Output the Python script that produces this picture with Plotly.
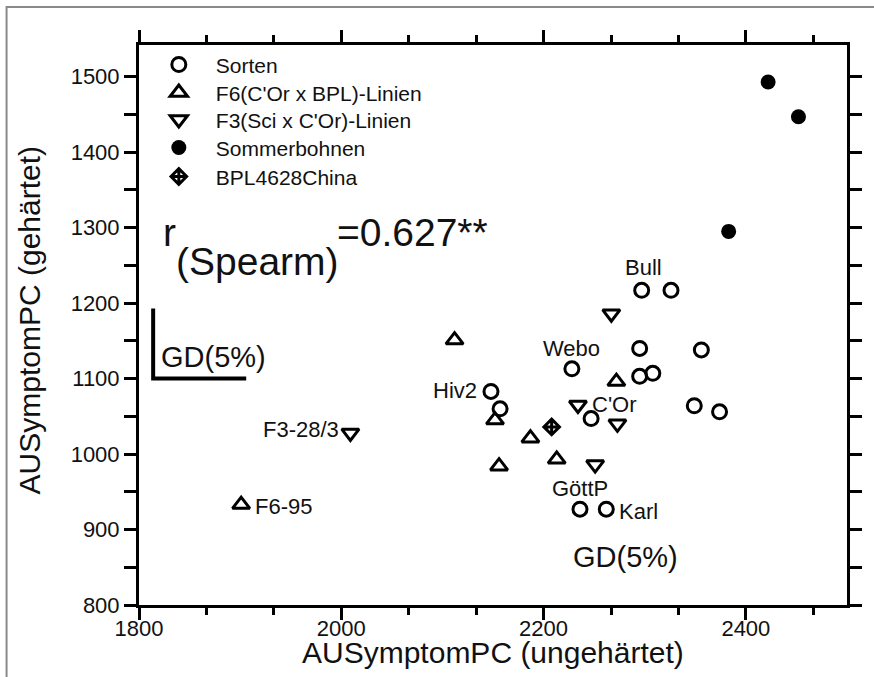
import plotly.graph_objects as go

# ---------------- data ----------------
sorten_x = [2297, 2326, 2228, 2295, 2356, 2295, 2308, 2349, 2374, 2148, 2157, 2247, 2236, 2262]
sorten_y = [1217, 1217, 1113, 1140, 1138, 1103, 1107, 1064, 1056, 1083, 1060, 1047, 927, 927]

f6_x = [2112, 2272, 2152, 2187, 2213, 2156, 1901]
f6_y = [1151, 1096, 1045, 1021, 993, 984, 933]

f3_x = [2267, 2234, 2273, 2251, 2009]
f3_y = [1186, 1065, 1040, 986, 1028]

sommer_x = [2422, 2452, 2383]
sommer_y = [1493, 1447, 1295]

bpl_x = [2208]
bpl_y = [1036]

# GD(5%) bracket: corner and lengths in data units
gd_corner = (1814, 1100)
gd_len_x = 92
gd_len_y = 93

# axis ranges / ticks
x_range = [1800, 2500]
y_range = [800, 1542]
x_dtick, x_minor = 200, 200 / 3
y_dtick, y_minor = 100, 50

# point labels: (series, index, text, xanchor, xshift, yshift)
point_labels = [
    ("sorten", 0, "Bull", "center", 2, 23),
    ("sorten", 2, "Webo", "center", 0, 20),
    ("sorten", 9, "Hiv2", "right", -12, 1),
    ("sorten", 11, "C'Or", "left", -1, 14),
    ("sorten", 12, "GöttP", "center", 0, 21),
    ("sorten", 13, "Karl", "left", 11, -2),
    ("f6", 6, "F6-95", "left", 12, -2),
    ("f3", 4, "F3-28/3", "right", -9, 3),
]

FONT = "Liberation Sans, Arial, Helvetica, sans-serif"
TXT = "#111111"

# plot-area geometry in pixels (used to place free text / legend rows)
L, R, T, B, W, H = 139, 24, 45, 72, 874, 677
PW, PH = W - L - R, H - T - B


def px_x(px):
    return (px - L) / PW


def px_y(py):
    return (H - B - py) / PH


legend_rows = [65, 93, 120, 148, 177]  # vertical centres of legend entries (px)

fig = go.Figure()

fig.add_trace(go.Scatter(
    x=sorten_x, y=sorten_y, mode="markers", name="Sorten", legend="legend",
    marker=dict(symbol="circle-open", size=14, color="black", line=dict(width=3, color="black"))))
fig.add_trace(go.Scatter(
    x=f6_x, y=f6_y, mode="markers", name="F6(C'Or x BPL)-Linien", legend="legend2",
    marker=dict(symbol="triangle-up-open", size=15, color="black", line=dict(width=3, color="black"))))
fig.add_trace(go.Scatter(
    x=f3_x, y=f3_y, mode="markers", name="F3(Sci x C'Or)-Linien", legend="legend3",
    marker=dict(symbol="triangle-down-open", size=15, color="black", line=dict(width=3, color="black"))))
fig.add_trace(go.Scatter(
    x=sommer_x, y=sommer_y, mode="markers", name="Sommerbohnen", legend="legend4",
    marker=dict(symbol="circle", size=15, color="black")))
fig.add_trace(go.Scatter(
    x=bpl_x, y=bpl_y, mode="markers", name="BPL4628China", legend="legend5",
    marker=dict(symbol="diamond-cross-open", size=12, color="black", line=dict(width=3, color="black"))))

# GD bracket (drawn on the tick-mark x axis, which shares the range of the main x axis)
gx, gy = gd_corner
fig.add_trace(go.Scatter(
    x=[gx, gx, gx + gd_len_x], y=[gy + gd_len_y, gy, gy], mode="lines", xaxis="x2", yaxis="y",
    line=dict(color="black", width=4), showlegend=False, hoverinfo="skip"))

series = {"sorten": (sorten_x, sorten_y), "f6": (f6_x, f6_y), "f3": (f3_x, f3_y)}
annotations = []
for s, i, t, xa, xs, ys in point_labels:
    xs_, ys_ = series[s]
    annotations.append(dict(x=xs_[i], y=ys_[i], xref="x", yref="y", text=t, showarrow=False,
                            xanchor=xa, yanchor="middle", xshift=xs, yshift=ys,
                            font=dict(size=22, color=TXT, family=FONT)))

# GD text next to bracket
annotations.append(dict(x=gx, y=gy, xref="x", yref="y", text="GD(5%)", showarrow=False,
                        xanchor="left", yanchor="middle", xshift=6, yshift=22,
                        font=dict(size=29, color=TXT, family=FONT)))
# GD text bottom
annotations.append(dict(x=px_x(628), y=px_y(557), xref="paper", yref="paper", text="GD(5%)",
                        showarrow=False, xanchor="center", yanchor="middle",
                        font=dict(size=29, color=TXT, family=FONT)))

# Spearman text
RF = 39
annotations.append(dict(x=px_x(161), y=px_y(232), xref="paper", yref="paper", text="r",
                        showarrow=False, xanchor="left", yanchor="middle",
                        font=dict(size=RF, color=TXT, family=FONT)))
annotations.append(dict(x=px_x(174), y=px_y(261), xref="paper", yref="paper", text="(Spearm)",
                        showarrow=False, xanchor="left", yanchor="middle",
                        font=dict(size=RF, color=TXT, family=FONT)))
annotations.append(dict(x=px_x(336), y=px_y(232), xref="paper", yref="paper", text="=0.627**",
                        showarrow=False, xanchor="left", yanchor="middle",
                        font=dict(size=RF, color=TXT, family=FONT)))

# axis titles
annotations.append(dict(x=0.5, y=px_y(652), xref="paper", yref="paper",
                        text="AUSymptomPC (ungehärtet)", showarrow=False,
                        xanchor="center", yanchor="middle", borderpad=0,
                        font=dict(size=30, color=TXT, family=FONT)))
annotations.append(dict(x=px_x(30), y=0.509, xref="paper", yref="paper",
                        text="AUSymptomPC (gehärtet)", showarrow=False, textangle=-90,
                        xanchor="center", yanchor="middle",
                        font=dict(size=30, color=TXT, family=FONT)))

tickfont = dict(size=22, color=TXT, family=FONT)

# main x axis: carries the tick labels (short invisible ticks keep labels close to the axis)
xaxis = dict(range=x_range, tick0=x_range[0], dtick=x_dtick,
             ticks="outside", ticklen=2, tickwidth=1, tickcolor="rgba(0,0,0,0)",
             showline=True, linewidth=3, linecolor="black", mirror=True,
             showgrid=False, zeroline=False, tickfont=tickfont)
# overlay x axis: draws the visible major/minor tick marks (bottom and mirrored top)
xaxis2 = dict(overlaying="x", matches="x", anchor="y", side="bottom",
              range=x_range, tick0=x_range[0], dtick=x_dtick,
              ticks="outside", ticklen=12, tickwidth=2.5, tickcolor="black",
              showline=True, linewidth=3, linecolor="black", mirror="allticks",
              showticklabels=False, showgrid=False, zeroline=False,
              minor=dict(tick0=x_range[0], dtick=x_minor, ticks="outside", ticklen=7, tickwidth=2.5,
                         tickcolor="black", showgrid=False))
yaxis = dict(range=y_range, tick0=y_range[0], dtick=y_dtick,
             ticks="outside", ticklen=12, tickwidth=2.5, tickcolor="black",
             showline=True, linewidth=3, linecolor="black", mirror="allticks",
             showgrid=False, zeroline=False, tickfont=tickfont,
             minor=dict(tick0=y_range[0], dtick=y_minor, ticks="outside", ticklen=7, tickwidth=2.5,
                        tickcolor="black", showgrid=False))

# outer grey frame (top and left edges)
fl, ft, fb, fr = px_x(6), px_y(7), px_y(690), px_x(890)
shapes = [dict(type="path", xref="paper", yref="paper",
               path=f"M {fl} {fb} L {fl} {ft} L {fr} {ft}",
               line=dict(color="#8a8a8a", width=2))]

LEG_FONT = 21
legend_common = dict(xanchor="left", yanchor="top", bgcolor="rgba(0,0,0,0)", borderwidth=0,
                     font=dict(size=LEG_FONT, color=TXT, family=FONT), itemwidth=64)
leg_offset = 5.5 + (LEG_FONT * 1.3 + 3) / 2
legends = {}
for k, row in enumerate(legend_rows):
    key = "legend" if k == 0 else f"legend{k + 1}"
    legends[key] = dict(x=0.004, y=px_y(row - leg_offset), **legend_common)

fig.update_layout(
    width=W, height=H,
    margin=dict(l=L, r=R, t=T, b=B),
    paper_bgcolor="white", plot_bgcolor="white",
    font=dict(family=FONT, color=TXT),
    showlegend=True,
    xaxis=xaxis, xaxis2=xaxis2, yaxis=yaxis,
    annotations=annotations,
    shapes=shapes,
    **legends,
)

fig.write_html("out.html")
